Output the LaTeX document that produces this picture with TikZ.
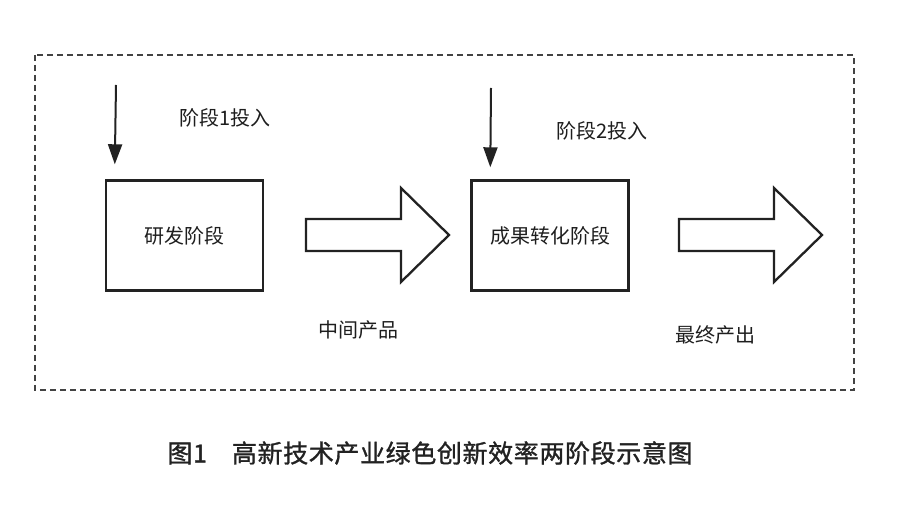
\documentclass[tikz,border=0pt]{standalone}
\usepackage{fontspec}
\setmainfont{Noto Sans CJK SC}
\usepackage{tikz}
\usetikzlibrary{arrows.meta,positioning,calc}
\definecolor{ink}{HTML}{222222}
\definecolor{txt}{HTML}{1E1E1E}

\begin{document}
\begin{tikzpicture}[x=1pt,y=-1pt,
    stagebox/.style={draw=ink,line width=2.4pt,minimum width=157pt,minimum height=110pt,
      inner sep=0pt,text=txt,font=\fontsize{20}{24}\selectfont},
    lbl/.style={text=txt,inner sep=0pt,font=\fontsize{20}{24}\selectfont},
    inarrow/.style={draw=ink,line width=2pt,-{Triangle[length=20pt,width=14pt]}},
    blockarrow/.style={draw=ink,line width=2.3pt,line join=miter},
    frame/.style={draw=ink!85,line width=1.4pt,dash pattern=on 6pt off 4pt}]
  \useasboundingbox[fill=white] (0,0) rectangle (900,510);
  \draw[frame] (35,55) rectangle (854,390);
  % two stages
  \node[stagebox] (rd) at (184.5,235.5) {研发阶段};
  \node[stagebox] (tr) at (550,235.5) {成果转化阶段};
  % inputs
  \coordinate (in1) at (116,85);
  \coordinate (in2) at (491,88);
  \draw[inarrow] (in1) -- ([shift={(10,-15)}]rd.north west);
  \draw[inarrow] (in2) -- ([shift={(20,-12)}]tr.north west);
  \node[lbl] (l1) at (225,118) {阶段1投入};
  \node[lbl] (l2) at (602,131) {阶段2投入};
  % outputs
  \foreach \s in {306,679}{
    \draw[blockarrow] (\s,219) -- ++(95,0) -- ++(0,-31) -- ++(48,47)
      -- ++(-48,47) -- ++(0,-31) -- ++(-95,0) -- cycle;
  }
  \node[lbl] (o1) at (358,330) {中间产品};
  \node[lbl] (o2) at (715,335) {最终产出};
  \node[text=ink,inner sep=0pt,font=\fontsize{25}{30}\selectfont\addfontfeature{LetterSpace=2.5,FakeBold=1.2}]
    (cap) at (430,453) {图1\hspace{25pt}高新技术产业绿色创新效率两阶段示意图};
\end{tikzpicture}
\end{document}
